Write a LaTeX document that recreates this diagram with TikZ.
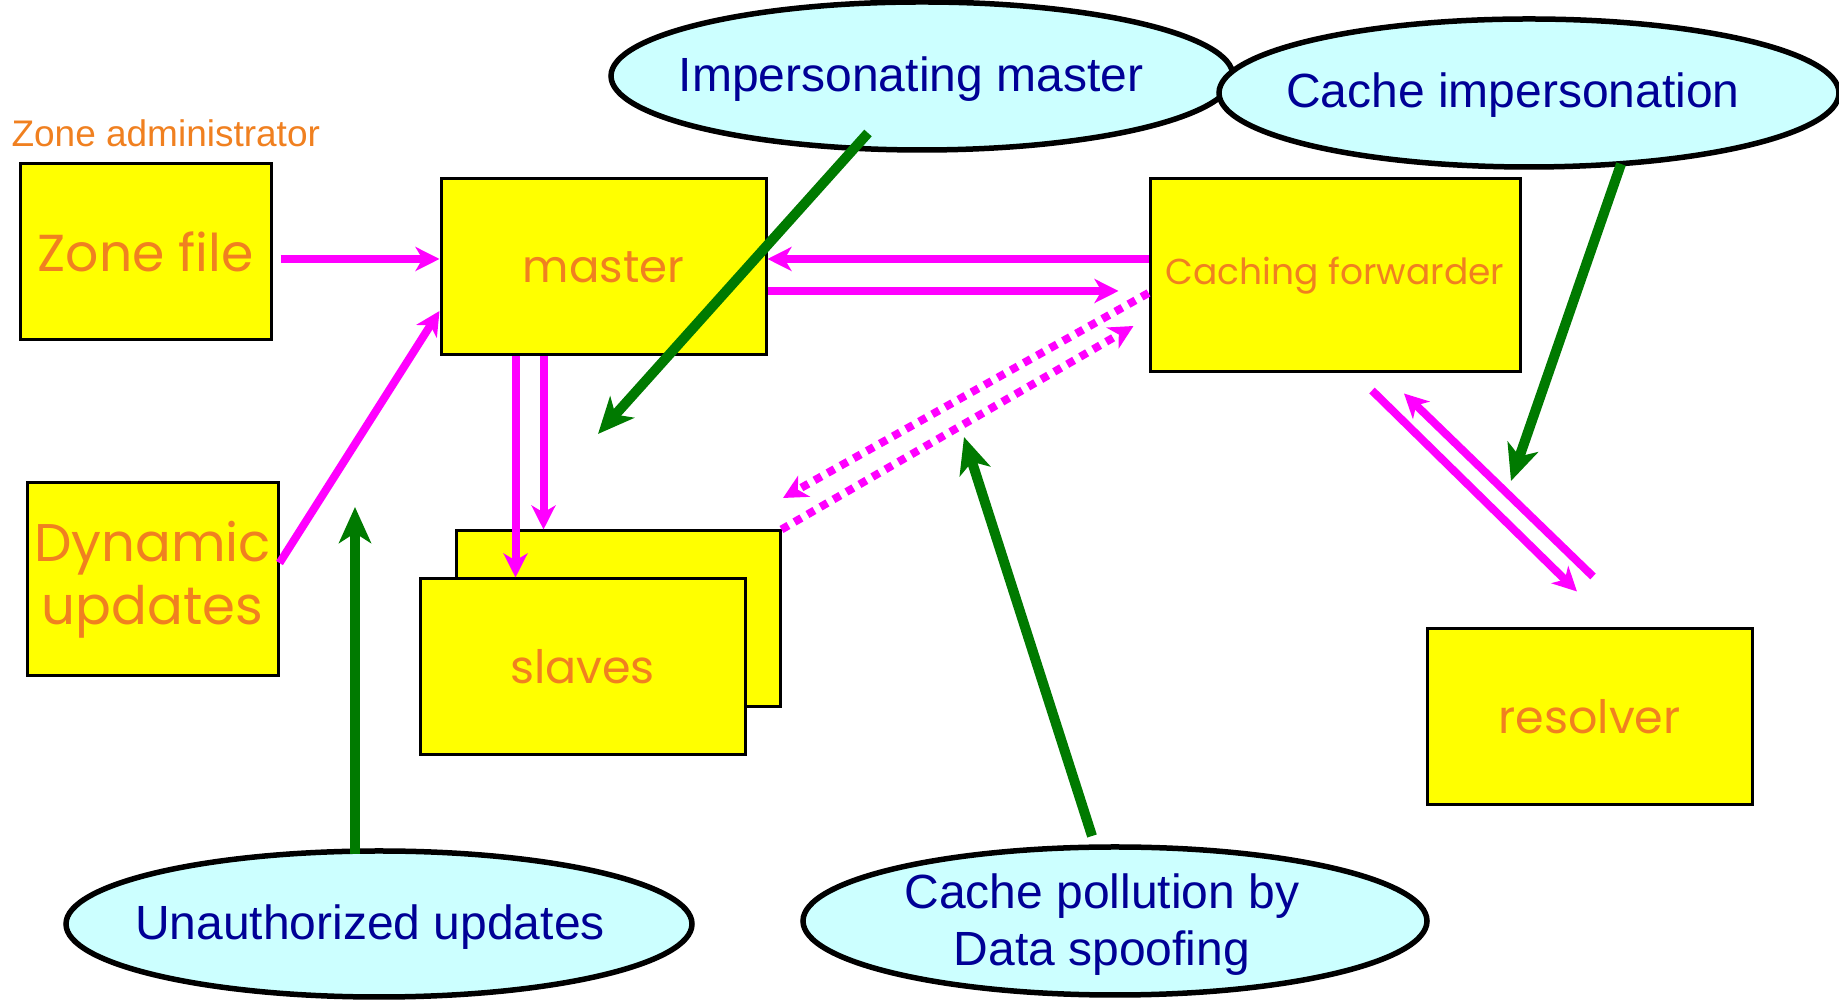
\documentclass[tikz,border=0pt]{standalone}
\usepackage{fontspec}
\usetikzlibrary{arrows.meta,shapes.geometric}
\newfontfamily\boxfont{Poppins}
\newfontfamily\ovalfont{Liberation Sans}
\definecolor{boxyellow}{RGB}{255,255,0}
\definecolor{boxtext}{RGB}{240,128,32}
\definecolor{linkpink}{RGB}{255,0,255}
\definecolor{attackgreen}{RGB}{0,122,0}
\definecolor{ovalfill}{RGB}{204,255,255}
\definecolor{ovaltext}{RGB}{0,0,150}
\tikzset{
  server/.style={draw=black, line width=3pt, fill=boxyellow, text=boxtext, inner sep=0pt, align=center},
  threat/.style={ellipse, draw=black, line width=5.5pt, fill=ovalfill, inner sep=0pt},
  threattext/.style={text=ovaltext, inner sep=0pt, align=center, font=\ovalfont\fontsize{48}{57}\selectfont},
  query/.style={linkpink, line width=8pt, -{Stealth[length=24pt,width=24pt,inset=7pt]}},
  spoof/.style={query, dash pattern=on 8pt off 7pt},
  attack/.style={attackgreen, line width=10pt, -{Stealth[length=36pt,width=32pt,inset=10pt]}}
}
\begin{document}
\begin{tikzpicture}[x=1pt,y=1pt]
        \useasboundingbox (0,0) rectangle (1839,1000);

        % Servers
        \node[anchor=west, text=boxtext, font=\ovalfont\fontsize{37}{44}\selectfont] (admin) at (8,867) {Zone administrator};
        \node[server, minimum width=251pt, minimum height=176pt, font=\boxfont\fontsize{52}{60}\selectfont] (zonefile) at (145.5,748) {Zone file};
        \node[server, minimum width=325pt, minimum height=176pt, font=\boxfont\fontsize{45}{54}\selectfont] (master) at (603.5,733) {master};
        \node[server, minimum width=370pt, minimum height=193pt, font=\boxfont\fontsize{36}{42}\selectfont] (caching) at (1335,724.5) {Caching forwarder};
        \node[server, minimum width=251pt, minimum height=193pt, font=\boxfont\fontsize{53}{63}\selectfont] (dynupd) at (152.5,420.5) {Dynamic\\updates};
        \node[server, minimum width=324pt, minimum height=176pt] (slavesback) at (618,381) {};
        \node[server, minimum width=325pt, minimum height=176pt, font=\boxfont\fontsize{46}{54}\selectfont] (slaves) at (582.5,333) {slaves};
        \node[server, minimum width=325pt, minimum height=176pt, font=\boxfont\fontsize{46}{54}\selectfont] (resolver) at (1589.5,283) {resolver};

        % Free ends
        \coordinate (spoofend) at (783,502);
        \coordinate (fwdout) at ([shift={(37,-17)}]caching.south);
        \coordinate (fwdin) at ([shift={(69,-20)}]caching.south);
        \coordinate (resin) at ([shift={(-12.5,36)}]resolver.north);
        \coordinate (resout) at ([shift={(3.5,51)}]resolver.north);

        % Normal traffic
        \draw[query] ([shift={(8,-7)}]zonefile.east) -- ([yshift=8pt]master.west);
        \draw[query] ([yshift=16.5pt]dynupd.east) -- ([yshift=-44pt]master.west);
        \draw[query] ([yshift=16.5pt]caching.west) -- ([yshift=8pt]master.east);
        \draw[query] ([yshift=-24pt]master.east) -- ([shift={(-30,-15.5)}]caching.west);
        \draw[query] ([xshift=-88pt]master.south) -- ([xshift=-88pt]master.south |- slaves.north);
        \draw[query] ([xshift=-60pt]master.south) -- ([xshift=-60pt]master.south |- slavesback.north);
        \draw[query] (fwdout) -- (resin);
        \draw[query] (resout) -- (fwdin);

        % Spoofed traffic
        \draw[spoof] ([yshift=-17.5pt]caching.west) -- (spoofend);
        \draw[spoof] (slavesback.north east) -- ([shift={(-15,-50.5)}]caching.west);

        % Threats
        \node[threat, minimum width=622pt, minimum height=148pt,
          label={[threattext, shift={(-11,-3.5)}]center:Impersonating master}] (impmaster) at (922,924) {};
        \node[threat, minimum width=620pt, minimum height=148pt,
          label={[threattext, shift={(-16,-2)}]center:Cache impersonation}] (cacheimp) at (1529,907) {};
        \node[threat, minimum width=626pt, minimum height=146pt,
          label={[threattext, shift={(-9,-3.5)}]center:Unauthorized updates}] (unauth) at (379,76) {};
        \node[threat, minimum width=624pt, minimum height=148pt,
          label={[threattext, shift={(-13,-3.5)}]center:Cache pollution by\\Data spoofing}] (pollution) at (1115,79) {};

        % Attacks
        \draw[attack] ([shift={(-54,-57)}]impmaster.center) -- (598,566);
        \draw[attack] ([shift={(92,-71)}]cacheimp.center) -- (1511,519);
        \draw[attack] ([shift={(-24,70)}]unauth.center) -- (355,493);
        \draw[attack] ([shift={(-23,85)}]pollution.center) -- (964,563);
\end{tikzpicture}
\end{document}
